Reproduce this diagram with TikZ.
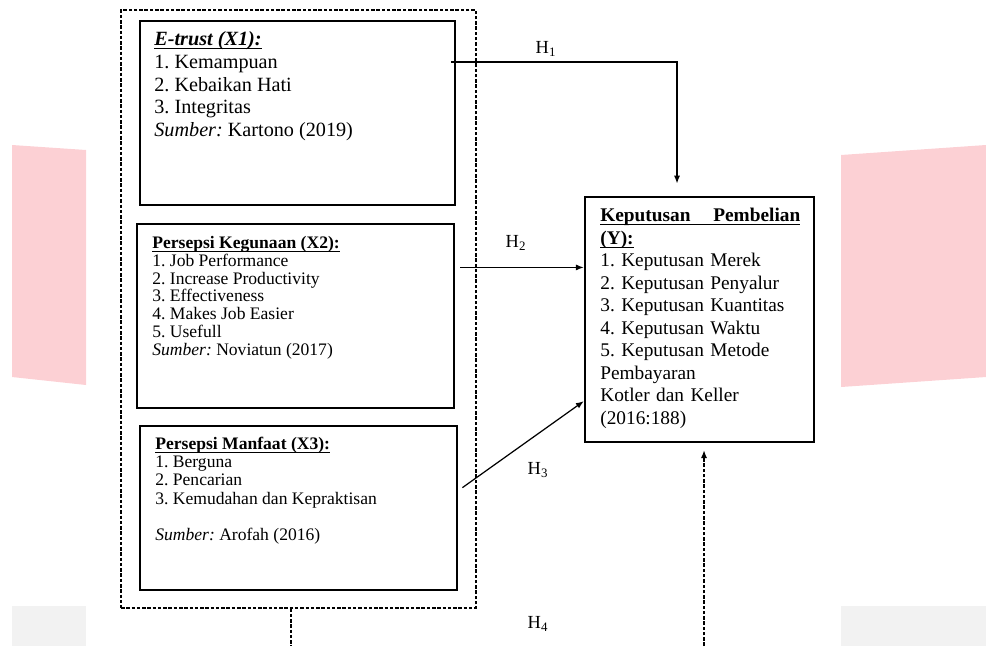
\documentclass[tikz,border=0pt]{standalone}
\usepackage{fontspec}
\setmainfont{Liberation Serif}
\frenchspacing
\usetikzlibrary{arrows.meta, calc, positioning}
\definecolor{bandpink}{RGB}{252,208,212}
\definecolor{bandgray}{RGB}{242,242,242}
% underline close to the baseline, adds no depth
\newcommand{\undl}[1]{\leavevmode\setbox0\hbox{#1}\rlap{\rule[-1.8pt]{\wd0}{0.5pt}}\box0}

\begin{document}
\begin{tikzpicture}[x=0.02cm, y=-0.02cm, >={Latex[length=4.5pt,width=3.5pt]},
    varbox/.style={draw, line width=1.6pt, inner sep=0pt},
    vartext/.style={anchor=north west, inner sep=0pt, align=left},
    hlabel/.style={font=\fontsize{10.5}{12}\selectfont},
    conn/.style={line width=0.7pt},
    dotline/.style={line width=0.7pt, dash pattern=on 2pt off 1pt}]
    \useasboundingbox (0,0) rectangle (986,646);

    % Background bands
    \fill[bandpink] (12,145) -- (86,150) -- (86,385) -- (12,377) -- cycle;
    \fill[bandpink] (841,155) -- (986,145) -- (986,377) -- (841,387) -- cycle;
    \fill[bandgray] (12,606) rectangle (86,646);
    \fill[bandgray] (841,606) rectangle (986,646);

    % Dashed group around the X variables
    \node[draw, dotline, minimum width=7.1cm, minimum height=11.96cm, inner sep=0pt] (grp) at (298.5,309) {};

    % Variable boxes
    \node[varbox, minimum width=6.3cm, minimum height=3.68cm] (xone) at (297.5,113) {};
    \node[varbox, minimum width=6.34cm, minimum height=3.68cm] (xtwo) at (295.5,316) {};
    \node[varbox, minimum width=6.34cm, minimum height=3.28cm] (xthree) at (298.5,508) {};
    \node[varbox, line width=1.4pt, minimum width=4.58cm, minimum height=4.9cm] (ykep) at (699.5,319.5) {};

    % Box texts
    \node[vartext, font=\fontsize{11.5}{13}\selectfont] (xonetext) at (154,31) {
        \undl{\textbf{\textit{E-trust (X1):}}}\\
        1. Kemampuan\\
        2. Kebaikan Hati\\
        3. Integritas\\
        \textit{Sumber:} Kartono (2019)};
    \node[vartext, font=\fontsize{10}{10.1}\selectfont] (xtwotext) at (152,236) {
        \undl{\textbf{Persepsi Kegunaan (X2):}}\\
        1. Job Performance\\
        2. Increase Productivity\\
        3. Effectiveness\\
        4. Makes Job Easier\\
        5. Usefull\\
        \textit{Sumber:} Noviatun (2017)};
    \node[vartext, font=\fontsize{10}{10.3}\selectfont] (xthreetext) at (155,437) {
        \undl{\textbf{Persepsi Manfaat (X3):}}\\
        1. Berguna\\
        2. Pencarian\\
        3. Kemudahan dan Kepraktisan\\[10.5pt]
        \textit{Sumber:} Arofah (2016)};
    \node[vartext, text width=4cm, font=\fontsize{11}{12.8}\selectfont] (ytext) at (600,208) {
        \undl{\textbf{\makebox[4cm][s]{Keputusan\hfill Pembelian}}}\\
        \undl{\textbf{(Y):}}\\
        1. Keputusan Merek\\
        2. Keputusan Penyalur\\
        3. Keputusan Kuantitas\\
        4. Keputusan Waktu\\
        5. Keputusan Metode\\
        Pembayaran\\
        Kotler dan Keller\\
        (2016:188)};

    % Hypothesis labels
    \node[hlabel] (hone) at (546,49) {H\textsubscript{1}};
    \node[hlabel] (htwo) at (516,243) {H\textsubscript{2}};
    \node[hlabel] (hthree) at (538,470) {H\textsubscript{3}};
    \node[hlabel] (hfour) at (538,624) {H\textsubscript{4}};

    % Connecting lines
    \coordinate (honecorner) at (677,62);
    \coordinate (hfourleft) at (291,646);
    \coordinate (hfourright) at (704,646);
    \draw[->, conn, shorten >=7pt] ([xshift=-3pt]xone.east |- honecorner) -- (honecorner) -- (ykep.north -| honecorner);
    \draw[->, conn] ($(xtwo.north east)!0.24!(xtwo.south east)+(5,0)$) coordinate (htwostart) -- (ykep.west |- htwostart);
    \draw[->, conn] ($(xthree.north east)!0.378!(xthree.south east)+(4,0)$) -- ($(ykep.north west)!0.83!(ykep.south west)$);
    \draw[dotline] (grp.south -| hfourleft) -- (hfourleft);
    \draw[->, dotline, shorten >=4pt] (hfourright) -- (ykep.south -| hfourright);
\end{tikzpicture}
\end{document}
